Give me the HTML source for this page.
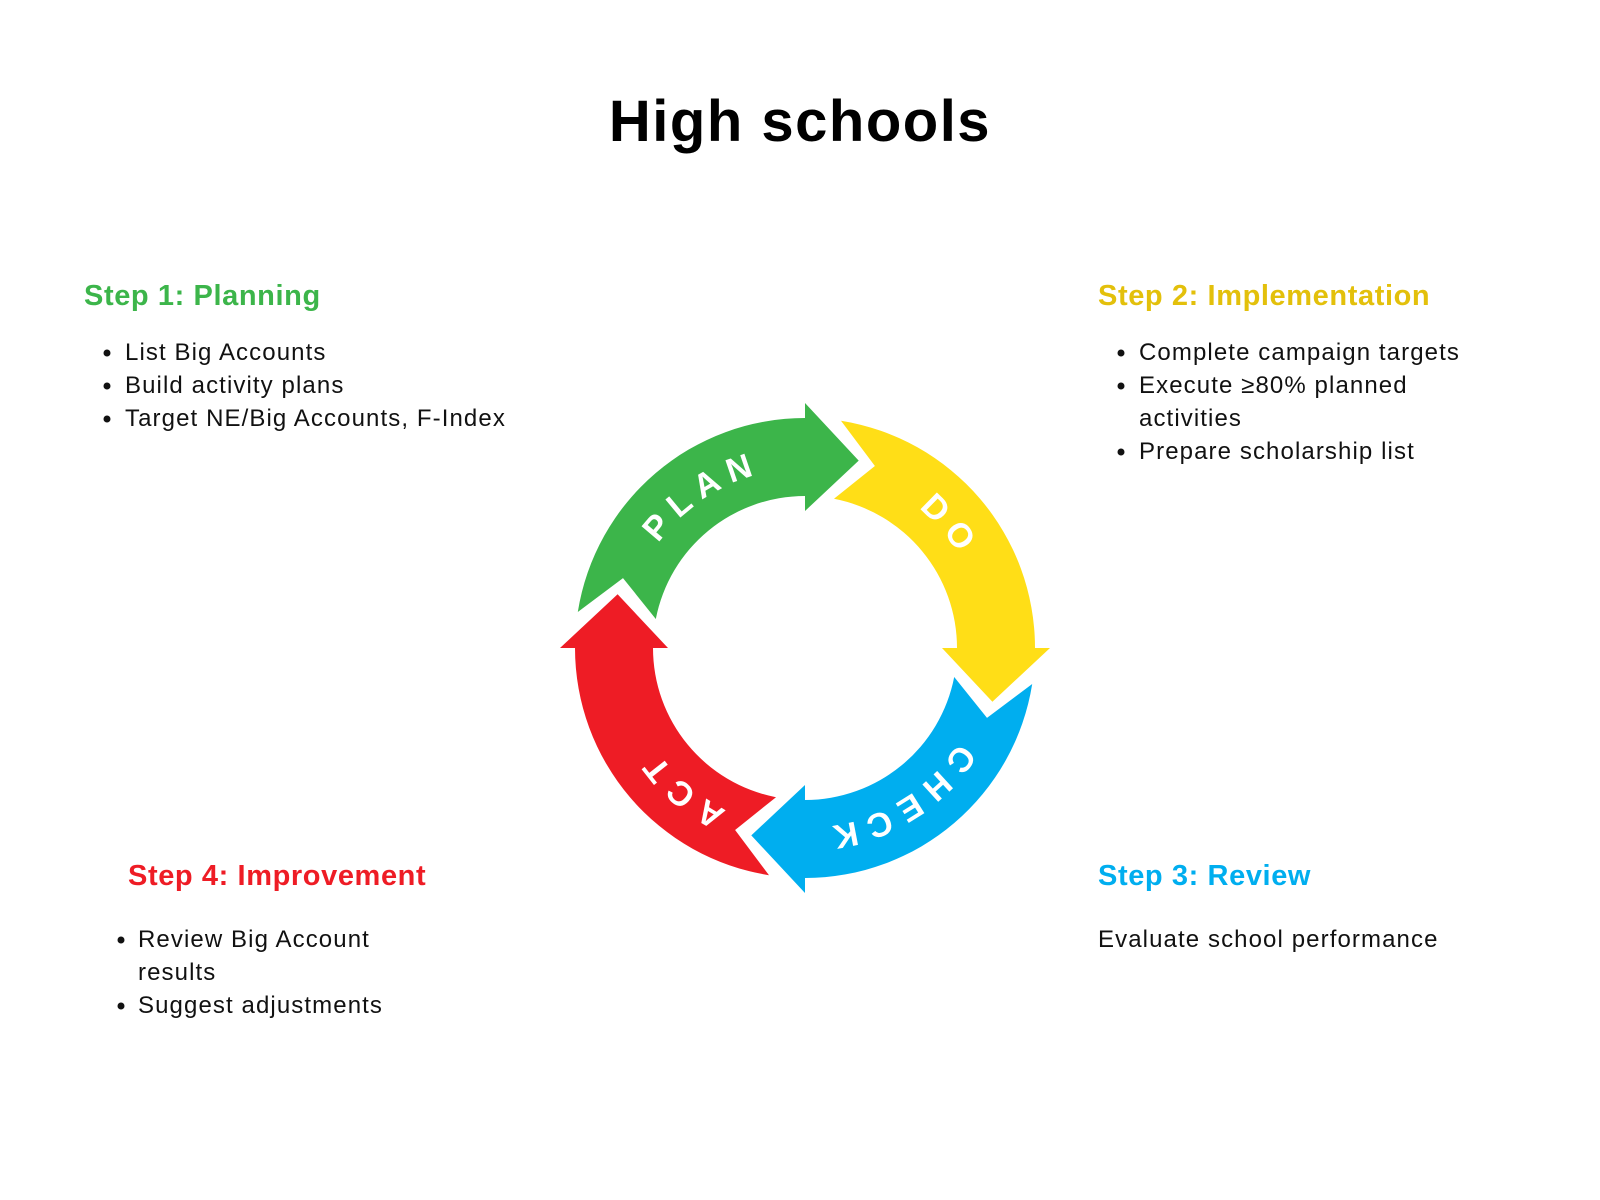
<!DOCTYPE html>
<html><head><meta charset="utf-8"><style>
html,body{margin:0;padding:0;background:#fff;}
svg{display:block;}
text{font-family:"Liberation Sans",sans-serif;}
.b{font-size:24px;fill:#111;letter-spacing:1.1px;}
.h{font-size:29px;font-weight:bold;letter-spacing:0.6px;}
.lbl{font-size:34px;font-weight:bold;fill:#fff;letter-spacing:9px;}
</style></head><body>
<svg id="s" width="1600" height="1200" viewBox="0 0 1600 1200" xmlns="http://www.w3.org/2000/svg">
<defs><path id="circ" d="M 985 648 A 180 180 0 1 1 625 648 A 180 180 0 1 1 985 648"/></defs>
<text x="800" y="141" text-anchor="middle" style="font-size:58px;font-weight:bold;fill:#000;letter-spacing:1.5px">High schools</text>

<text x="84" y="305" class="h" fill="#3cb54a">Step 1: Planning</text>
<circle cx="107" cy="353" r="3.5" fill="#111"/><text x="125" y="360" class="b">List Big Accounts</text>
<circle cx="107" cy="386" r="3.5" fill="#111"/><text x="125" y="393" class="b">Build activity plans</text>
<circle cx="107" cy="419" r="3.5" fill="#111"/><text x="125" y="426" class="b">Target NE/Big Accounts, F-Index</text>

<text x="1098" y="305" class="h" fill="#e3c00b">Step 2: Implementation</text>
<circle cx="1121" cy="353" r="3.5" fill="#111"/><text x="1139" y="360" class="b">Complete campaign targets</text>
<circle cx="1121" cy="386" r="3.5" fill="#111"/><text x="1139" y="393" class="b">Execute ≥80% planned</text>
<text x="1139" y="426" class="b">activities</text>
<circle cx="1121" cy="452" r="3.5" fill="#111"/><text x="1139" y="459" class="b">Prepare scholarship list</text>

<text x="128" y="885" class="h" fill="#ee1c25">Step 4: Improvement</text>
<circle cx="121" cy="940" r="3.5" fill="#111"/><text x="138" y="947" class="b">Review Big Account</text>
<text x="138" y="980" class="b">results</text>
<circle cx="121" cy="1006" r="3.5" fill="#111"/><text x="138" y="1013" class="b">Suggest adjustments</text>

<text x="1098" y="885" class="h" fill="#00aeef">Step 3: Review</text>
<text x="1098" y="947" class="b">Evaluate school performance</text>

<g id="arrows"></g>
<text class="lbl"><textPath href="#circ" startOffset="741" text-anchor="middle">PLAN</textPath></text>
<text class="lbl"><textPath href="#circ" startOffset="1005" text-anchor="middle">DO</textPath></text>
<text class="lbl"><textPath href="#circ" startOffset="182" text-anchor="middle">CHECK</textPath></text>
<text class="lbl"><textPath href="#circ" startOffset="412" text-anchor="middle">ACT</textPath></text>
</svg>
<script>
(function(){
var cx=805,cy=648,R=230,r=152;
function p(rad,deg){var a=deg*Math.PI/180;return (cx+rad*Math.cos(a)).toFixed(1)+" "+(cy+rad*Math.sin(a)).toFixed(1);}
var cols=["#3cb54a","#ffde17","#00aeef","#ee1c25"];
var g=document.getElementById("arrows"),h="";
for(var k=0;k<4;k++){
 var B=-90+90*k;
 var d="M "+p(R,B-81)+" A "+R+" "+R+" 0 0 1 "+p(R,B)+" L "+p(245,B)+" L "+p(195,B+16)+" L "+p(137,B)+" L "+p(r,B)+" A "+r+" "+r+" 0 0 0 "+p(r,B-79)+" L "+p(195,B-69)+" Z";
 h+='<path d="'+d+'" fill="'+cols[k]+'"/>';
}
g.innerHTML=h;
})();
</script>
</body></html>
